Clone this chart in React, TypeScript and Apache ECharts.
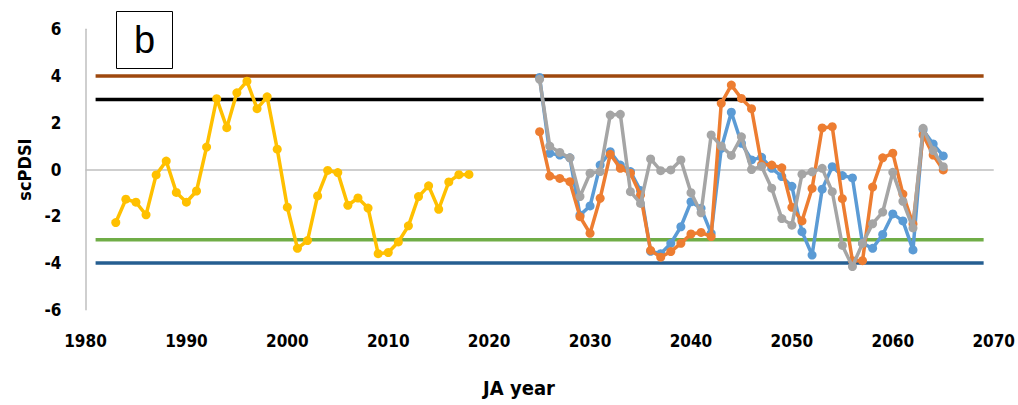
import React, { useEffect, useRef } from "react";
import * as echarts from "echarts";

const histYears = [1983, 1984, 1985, 1986, 1987, 1988, 1989, 1990, 1991, 1992, 1993, 1994, 1995, 1996, 1997, 1998, 1999, 2000, 2001, 2002, 2003, 2004, 2005, 2006, 2007, 2008, 2009, 2010, 2011, 2012, 2013, 2014, 2015, 2016, 2017, 2018];
const histValues = [-2.27, -1.27, -1.4, -1.94, -0.23, 0.36, -0.98, -1.4, -0.92, 0.96, 3.03, 1.79, 3.28, 3.78, 2.6, 3.11, 0.87, -1.61, -3.37, -3.04, -1.13, -0.04, -0.13, -1.53, -1.22, -1.65, -3.6, -3.55, -3.1, -2.41, -1.16, -0.7, -1.7, -0.53, -0.22, -0.21];

const futYears = [2025, 2026, 2027, 2028, 2029, 2030, 2031, 2032, 2033, 2034, 2035, 2036, 2037, 2038, 2039, 2040, 2041, 2042, 2043, 2044, 2045, 2046, 2047, 2048, 2049, 2050, 2051, 2052, 2053, 2054, 2055, 2056, 2057, 2058, 2059, 2060, 2061, 2062, 2063, 2064, 2065];
const blueValues = [3.94, 0.69, 0.62, 0.5, -1.95, -1.56, 0.19, 0.76, 0.19, -0.09, -0.9, -3.5, -3.6, -3.16, -2.45, -1.38, -1.66, -2.73, 0.9, 2.45, 1.12, 0.41, 0.52, 0.05, -0.3, -0.72, -2.66, -3.66, -0.84, 0.12, -0.26, -0.36, -3.16, -3.37, -2.78, -1.9, -2.2, -3.44, 1.69, 1.09, 0.58];
const orangeValues = [1.62, -0.28, -0.38, -0.52, -2.02, -2.73, -1.23, 0.65, 0.05, -0.16, -1.09, -3.46, -3.75, -3.51, -3.16, -2.76, -2.69, -2.87, 2.83, 3.61, 3.04, 2.6, 0.21, 0.19, 0.07, -1.62, -2.2, -0.81, 1.78, 1.83, -1.25, -3.9, -3.9, -0.75, 0.5, 0.7, -1.05, -2.33, 1.48, 0.62, -0.02];
const grayValues = [3.86, 1.0, 0.73, 0.5, -1.16, -0.16, -0.09, 2.33, 2.36, -0.95, -1.45, 0.45, -0.05, -0.02, 0.41, -0.99, -1.85, 1.48, 1.0, 0.6, 1.4, 0.0, 0.13, -0.8, -2.1, -2.38, -0.2, -0.1, 0.05, -0.95, -3.25, -4.15, -3.16, -2.32, -1.82, -0.12, -1.36, -2.5, 1.76, 0.81, 0.12];

const thresholdStart = 1981;
const thresholdEnd = 2069;
const thresholdValues = [4, 3, -3, -4];
const thresholdColors = ["#9E480E", "#000000", "#70AD47", "#255E91"];

const xTicks = [1980, 1990, 2000, 2010, 2020, 2030, 2040, 2050, 2060, 2070];
const yTicks = [-6, -4, -2, 0, 2, 4, 6];

const FONT = "'Liberation Sans Narrow', 'DejaVu Sans Condensed', 'Liberation Sans', Arial, sans-serif";

function pairs(xs: number[], ys: number[]) {
  return xs.map((x, i) => [x, ys[i]]);
}

export default function App() {
  const ref = useRef<HTMLDivElement>(null);
  useEffect(() => {
    if (!ref.current) return;
    const chart = echarts.init(ref.current, null, { renderer: "svg" });
    const thresholdSeries = thresholdValues.map((v, i) => ({
      type: "line",
      data: [[thresholdStart, v], [thresholdEnd, v]],
      symbol: "none",
      lineStyle: { color: thresholdColors[i], width: 3.5 },
      z: 2,
      silent: true,
    }));
    const dataSeries = (name: string, xs: number[], ys: number[], color: string, z: number) => ({
      type: "line",
      name,
      data: pairs(xs, ys),
      symbol: "circle",
      symbolSize: 9,
      showSymbol: true,
      lineStyle: { color, width: 3.5 },
      itemStyle: { color },
      z,
    });
    chart.setOption({
      animation: false,
      grid: { left: 85.5, right: 23, top: 29.25, bottom: 95.25 },
      xAxis: {
        type: "value",
        min: xTicks[0],
        max: xTicks[xTicks.length - 1],
        interval: 10,
        axisLine: { show: false },
        axisTick: { show: false },
        splitLine: { show: false },
        axisLabel: {
          margin: 23,
          fontSize: 17,
          fontWeight: "bold",
          color: "#000",
          fontFamily: FONT,
          formatter: (v: number) => String(v),
        },
      },
      yAxis: {
        type: "value",
        min: yTicks[0],
        max: yTicks[yTicks.length - 1],
        interval: 2,
        axisLine: { show: true, lineStyle: { color: "#BFBFBF", width: 1.5 } },
        axisTick: { show: false },
        splitLine: { show: false },
        axisLabel: {
          margin: 24,
          fontSize: 17,
          fontWeight: "bold",
          color: "#000",
          fontFamily: FONT,
        },
        name: "scPDSI",
        nameLocation: "middle",
        nameGap: 52,
        nameTextStyle: { fontSize: 18, fontWeight: "bold", color: "#000", fontFamily: FONT },
      },
      series: [
        {
          type: "line",
          data: [],
          markLine: {
            silent: true,
            symbol: "none",
            label: { show: false },
            lineStyle: { color: "#BFBFBF", width: 1.5, type: "solid" },
            data: [{ yAxis: 0 }],
          },
          z: 1,
        },
        ...thresholdSeries,
        dataSeries("hist", histYears, histValues, "#FFC000", 5),
        dataSeries("blue", futYears, blueValues, "#5B9BD5", 5),
        dataSeries("orange", futYears, orangeValues, "#ED7D31", 6),
        dataSeries("gray", futYears, grayValues, "#A5A5A5", 7),
      ],
      graphic: [
        {
          type: "rect",
          shape: { x: 116.5, y: 11.5, width: 56, height: 57 },
          style: { fill: "#fff", stroke: "#000", lineWidth: 1 },
          z: 10,
        },
        {
          type: "text",
          x: 144.5,
          y: 40,
          style: {
            text: "b",
            fontSize: 38,
            fontFamily: "'Liberation Sans', Arial, sans-serif",
            fill: "#000",
            align: "center",
            verticalAlign: "middle",
          },
          z: 11,
        },
        {
          type: "text",
          x: 519,
          y: 388,
          style: {
            text: "JA year",
            fontSize: 20,
            fontWeight: "bold",
            fontFamily: FONT,
            fill: "#000",
            align: "center",
            verticalAlign: "middle",
          },
        },
      ],
    });
    return () => chart.dispose();
  }, []);
  return (
    <div
      ref={ref}
      style={{ position: "fixed", left: 0, top: 0, width: 1018, height: 405, background: "#fff" }}
    />
  );
}
